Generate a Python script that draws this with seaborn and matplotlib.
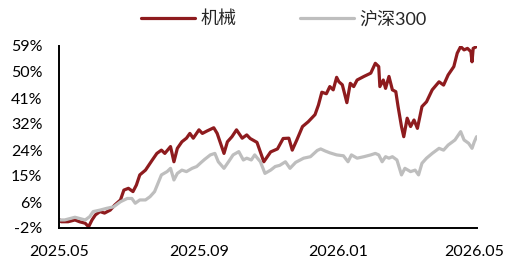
import pandas as pd
import numpy as np
import seaborn as sns
import matplotlib.pyplot as plt

# 机械 index, cumulative return (%)
jx_dates = ["2025-05-01", "2025-05-03", "2025-05-09", "2025-05-15", "2025-05-19", "2025-05-24",
            "2025-05-27", "2025-05-30", "2025-06-02", "2025-06-06", "2025-06-10", "2025-06-15",
            "2025-06-19", "2025-06-24", "2025-06-27", "2025-07-01", "2025-07-05", "2025-07-08",
            "2025-07-11", "2025-07-16", "2025-07-22", "2025-07-26", "2025-07-30", "2025-08-02",
            "2025-08-07", "2025-08-10", "2025-08-13", "2025-08-17", "2025-08-21", "2025-08-24",
            "2025-08-27", "2025-09-01", "2025-09-04", "2025-09-08", "2025-09-14", "2025-09-17",
            "2025-09-23", "2025-09-26", "2025-09-30", "2025-10-04", "2025-10-09", "2025-10-13",
            "2025-10-16", "2025-10-22", "2025-10-28", "2025-11-03", "2025-11-09", "2025-11-14",
            "2025-11-19", "2025-11-22", "2025-11-26", "2025-12-01", "2025-12-06", "2025-12-12",
            "2025-12-15", "2025-12-18", "2025-12-22", "2025-12-25", "2025-12-28", "2025-12-31",
            "2026-01-02", "2026-01-05", "2026-01-09", "2026-01-12", "2026-01-15", "2026-01-18",
            "2026-01-24", "2026-01-30", "2026-02-03", "2026-02-06", "2026-02-07", "2026-02-10",
            "2026-02-12", "2026-02-15", "2026-02-18", "2026-02-21", "2026-02-23", "2026-02-26",
            "2026-02-28", "2026-03-03", "2026-03-06", "2026-03-09", "2026-03-12", "2026-03-16",
            "2026-03-20", "2026-03-25", "2026-03-31", "2026-04-04", "2026-04-08", "2026-04-13",
            "2026-04-16", "2026-04-19", "2026-04-22", "2026-04-25", "2026-04-28", "2026-04-29",
            "2026-04-30", "2026-05-03"]
jx_values = [0.9, 0.1, 0.1, 0.7, 0.1, -0.4,
             -1.6, 0.7, 2.4, 3.5, 3.0, 4.0,
             5.7, 7.4, 10.7, 11.3, 10.2, 12.4,
             15.8, 17.4, 20.8, 23.0, 24.1, 23.0,
             25.3, 20.2, 24.7, 26.9, 28.1, 29.7,
             28.1, 30.9, 29.7, 30.5, 31.6, 29.7,
             23.0, 26.9, 28.6, 30.9, 28.1, 29.2,
             28.0, 26.7, 20.2, 23.5, 24.5, 28.0,
             28.1, 24.1, 27.5, 32.0, 33.6, 36.0,
             39.2, 43.5, 43.0, 45.4, 44.3, 48.5,
             47.0, 46.0, 40.0, 46.5, 45.4, 47.6,
             48.8, 49.9, 53.2, 52.1, 45.4, 47.6,
             44.8, 48.8, 44.3, 43.7, 38.7, 32.0,
             28.6, 34.8, 32.0, 34.2, 31.4, 38.7,
             40.3, 44.3, 47.0, 45.9, 49.3, 52.1,
             56.6, 58.8, 57.7, 58.2, 57.1, 53.7,
             58.2, 58.8]

# 沪深300, cumulative return (%)
hs_dates = ["2025-05-01", "2025-05-06", "2025-05-15", "2025-05-24", "2025-05-28", "2025-05-31",
            "2025-06-06", "2025-06-12", "2025-06-18", "2025-06-24", "2025-06-30", "2025-07-04",
            "2025-07-07", "2025-07-11", "2025-07-16", "2025-07-20", "2025-07-24", "2025-07-27",
            "2025-07-30", "2025-08-04", "2025-08-07", "2025-08-10", "2025-08-13", "2025-08-17",
            "2025-08-21", "2025-08-26", "2025-08-30", "2025-09-03", "2025-09-06", "2025-09-11",
            "2025-09-15", "2025-09-18", "2025-09-23", "2025-09-27", "2025-10-01", "2025-10-06",
            "2025-10-10", "2025-10-13", "2025-10-17", "2025-10-20", "2025-10-25", "2025-10-29",
            "2025-11-03", "2025-11-07", "2025-11-11", "2025-11-16", "2025-11-20", "2025-11-25",
            "2025-11-29", "2025-12-02", "2025-12-08", "2025-12-14", "2025-12-17", "2025-12-21",
            "2025-12-25", "2025-12-31", "2026-01-06", "2026-01-10", "2026-01-13", "2026-01-18",
            "2026-01-24", "2026-01-30", "2026-02-03", "2026-02-06", "2026-02-09", "2026-02-12",
            "2026-02-15", "2026-02-18", "2026-02-22", "2026-02-26", "2026-03-01", "2026-03-06",
            "2026-03-10", "2026-03-13", "2026-03-16", "2026-03-20", "2026-03-25", "2026-03-31",
            "2026-04-04", "2026-04-08", "2026-04-14", "2026-04-19", "2026-04-22", "2026-04-26",
            "2026-04-29", "2026-05-01", "2026-05-03"]
hs_values = [0.7, 0.7, 1.6, 0.7, 1.8, 3.5,
             4.0, 4.6, 5.1, 6.8, 7.9, 7.9,
             6.3, 7.4, 7.4, 8.5, 10.2, 13.0,
             15.8, 16.9, 18.0, 14.1, 16.3, 17.4,
             16.9, 18.0, 18.6, 20.0, 21.0, 22.5,
             23.0, 20.2, 18.0, 20.2, 22.5, 23.6,
             20.8, 21.4, 20.8, 22.5, 20.2, 16.3,
             17.4, 18.6, 19.0, 20.2, 18.0, 20.0,
             20.8, 21.4, 21.9, 24.0, 24.5, 23.8,
             23.2, 22.5, 22.2, 20.2, 22.5, 21.4,
             21.9, 22.5, 23.0, 22.5, 20.2, 21.9,
             21.4, 21.9, 20.8, 15.8, 18.0, 16.9,
             17.4, 15.8, 19.7, 21.4, 23.0, 24.7,
             24.1, 25.8, 27.5, 30.3, 27.5, 26.4,
             24.7, 26.9, 28.6]

y_ticks = [-2, 6.71, 15.43, 24.14, 32.86, 41.57, 50.29, 59]
y_labels = ["-2%", "6%", "15%", "24%", "32%", "41%", "50%", "59%"]
x_ticks = ["2025-05-01", "2025-09-01", "2026-01-01", "2026-05-01"]
x_labels = ["2025.05", "2025.09", "2026.01", "2026.05"]

df_jx = pd.DataFrame({"date": pd.to_datetime(jx_dates), "ret": jx_values})
df_hs = pd.DataFrame({"date": pd.to_datetime(hs_dates), "ret": hs_values})

sns.set_style("white")
plt.rcParams['font.family'] = ['Lato', 'Noto Sans CJK SC', 'DejaVu Sans']

fig = plt.figure(figsize=(5.07, 2.59), dpi=100)
ax = fig.add_axes([0.1164, 0.1197, 0.8236, 0.7027])

sns.lineplot(x="date", y="ret", data=df_jx, ax=ax, color="#8E1B1E", linewidth=2.3, label="机械")
sns.lineplot(x="date", y="ret", data=df_hs, ax=ax, color="#BEBEBE", linewidth=2.3, label="沪深300")

ax.set_xlim(pd.Timestamp("2025-05-01"), pd.Timestamp("2026-05-03"))
ax.set_ylim(-2, 59)
ax.set_yticks(y_ticks)
ax.set_yticklabels(y_labels)
ax.set_xticks(pd.to_datetime(x_ticks))
ax.set_xticklabels(x_labels)
ax.set_xlabel("")
ax.set_ylabel("")

for side in ["top", "right"]:
    ax.spines[side].set_visible(False)
for side in ["left", "bottom"]:
    ax.spines[side].set_color("black")
    ax.spines[side].set_linewidth(1.4)
ax.tick_params(axis="both", direction="out", width=1.4, color="black",
               labelsize=11.5, labelcolor="black")
ax.tick_params(axis="y", length=5, pad=7)
ax.tick_params(axis="x", length=4, pad=8)

ax.legend(loc="center", bbox_to_anchor=(0.539, 1.148), ncol=2, frameon=False,
          fontsize=13, handlelength=3.0, columnspacing=3.5, handletextpad=0.3)

fig.savefig("out.png", dpi=100)
